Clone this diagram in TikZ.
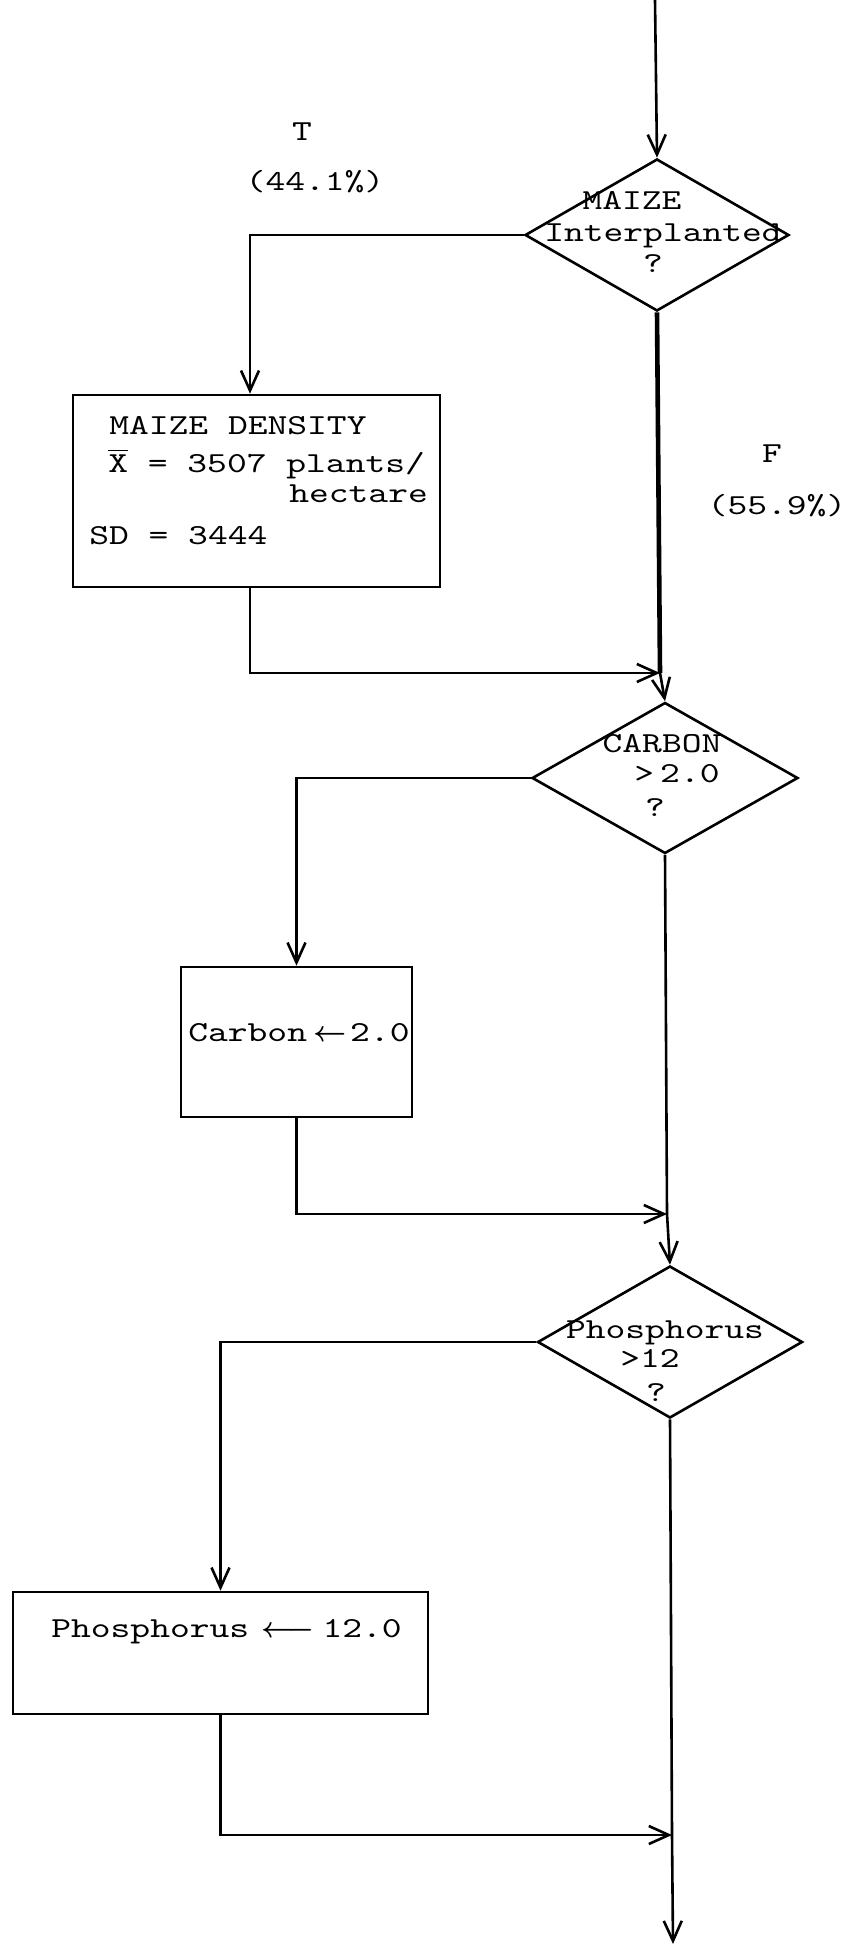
\documentclass[tikz,border=0pt]{standalone}
\usepackage{amsmath}
\usepackage{fontspec}
\setmonofont{lmmono10-regular}[Extension=.otf, FakeStretch=1.3]
\usetikzlibrary{shapes.geometric,arrows.meta,calc}
\begin{document}
\begin{tikzpicture}[x=0.5pt,y=-0.5pt,
  line width=1.3pt,
  every node/.style={font=\ttfamily\fontsize{14.5}{17}\selectfont},
  lbl/.style={inner sep=0pt, anchor=mid},
  lblw/.style={inner sep=0pt, anchor=mid west},
  decision/.style={draw, diamond, inner sep=0pt, minimum width=132pt, minimum height=76pt},
  procbox/.style={draw, rectangle, inner sep=0pt},
  arr/.style={-{Straight Barb[length=10pt,width=9pt]}},
  thickline/.style={line width=2.3pt}
]
\fill[white] (0,0) rectangle (849,1946);
\useasboundingbox (0,0) rectangle (849,1946);

% decisions
\node[decision] (D1) at (657,235) {};
\node[decision, minimum width=133pt, minimum height=75.5pt] (D2) at (665,778) {};
\node[decision, minimum width=132.5pt] (D3) at (670,1342) {};

% process boxes
\node[procbox, minimum width=183.5pt, minimum height=96pt] (B1) at (256.5,491) {};
\node[procbox, minimum width=115.5pt, minimum height=75pt] (B2) at (296.5,1042) {};
\node[procbox, minimum width=207.5pt, minimum height=61pt] (B3) at (220.5,1653) {};

% decision texts
\node[lbl] (d1a) at (632,205) {MAIZE};
\node[lbl] (d1b) at (663,237) {Interplanted};
\node[lbl] (d1c) at (653,268) {?};
\node[lbl] (d2a) at (662,748) {CARBON};
\node[lbl] (d2b) at (677,778) {>\hspace{3pt}2.0};
\node[lbl] (d2c) at (655,812) {?};
\node[lbl] (d3a) at (665,1334) {Phosphorus};
\node[lbl] (d3b) at (650,1363) {>12};
\node[lbl] (d3c) at (656,1397) {?};

% branch labels
\node[lbl] (T) at (302,136) {T};
\node[lbl] (Tp) at (315,186) {(44.1\%)};
\node[lbl] (F) at (772,458) {F};
\node[lbl] (Fp) at (777,510) {(55.9\%)};

% box texts
\node[lblw] (b1a) at (108,430) {MAIZE DENSITY};
\node[lblw] (b1b) at (107,468) {\ensuremath{\overline{\mbox{X}}} = 3507 plants/};
\node[lblw] (b1c) at (288,498) {hectare};
\node[lblw] (b1d) at (88,540) {SD = 3444};
\node[lblw] (b2t) at (187,1037) {Carbon\hspace{3pt}\ensuremath{\boldsymbol{\leftarrow}}\hspace{2pt}2.0};
\node[lblw] (b3t) at (50,1633) {Phosphorus\hspace{6pt}\ensuremath{\boldsymbol{\longleftarrow}}\hspace{4pt}12.0};

% connectors
\coordinate (top) at (655,0);
\draw[arr] (top) -- (D1.north);
\coordinate (c1) at (250,237);
\draw[arr] (D1.west) -- (D1.west -| c1) -- (c1 |- B1.north);
\coordinate (j1) at (660,673);
\draw[arr] (c1 |- B1.south) |- (j1);
\draw[thickline] (D1.south) -- (j1);
\draw[arr] (j1) -- (D2.north);

\draw[arr] (D2.west) -| (B2.north);
\coordinate (j2) at (667,1214);
\draw[arr] (B2.south) |- (j2);
\draw (D2.south) -- (j2);
\draw[arr] (j2) -- (D3.north);

\draw[arr] (D3.west) -| (B3.north);
\coordinate (j3) at (672,1835);
\draw[arr] (B3.south) |- (j3);
\draw (D3.south) -- (j3);
\coordinate (bot) at (673,1944);
\draw[arr] (j3) -- (bot);
\end{tikzpicture}
\end{document}
